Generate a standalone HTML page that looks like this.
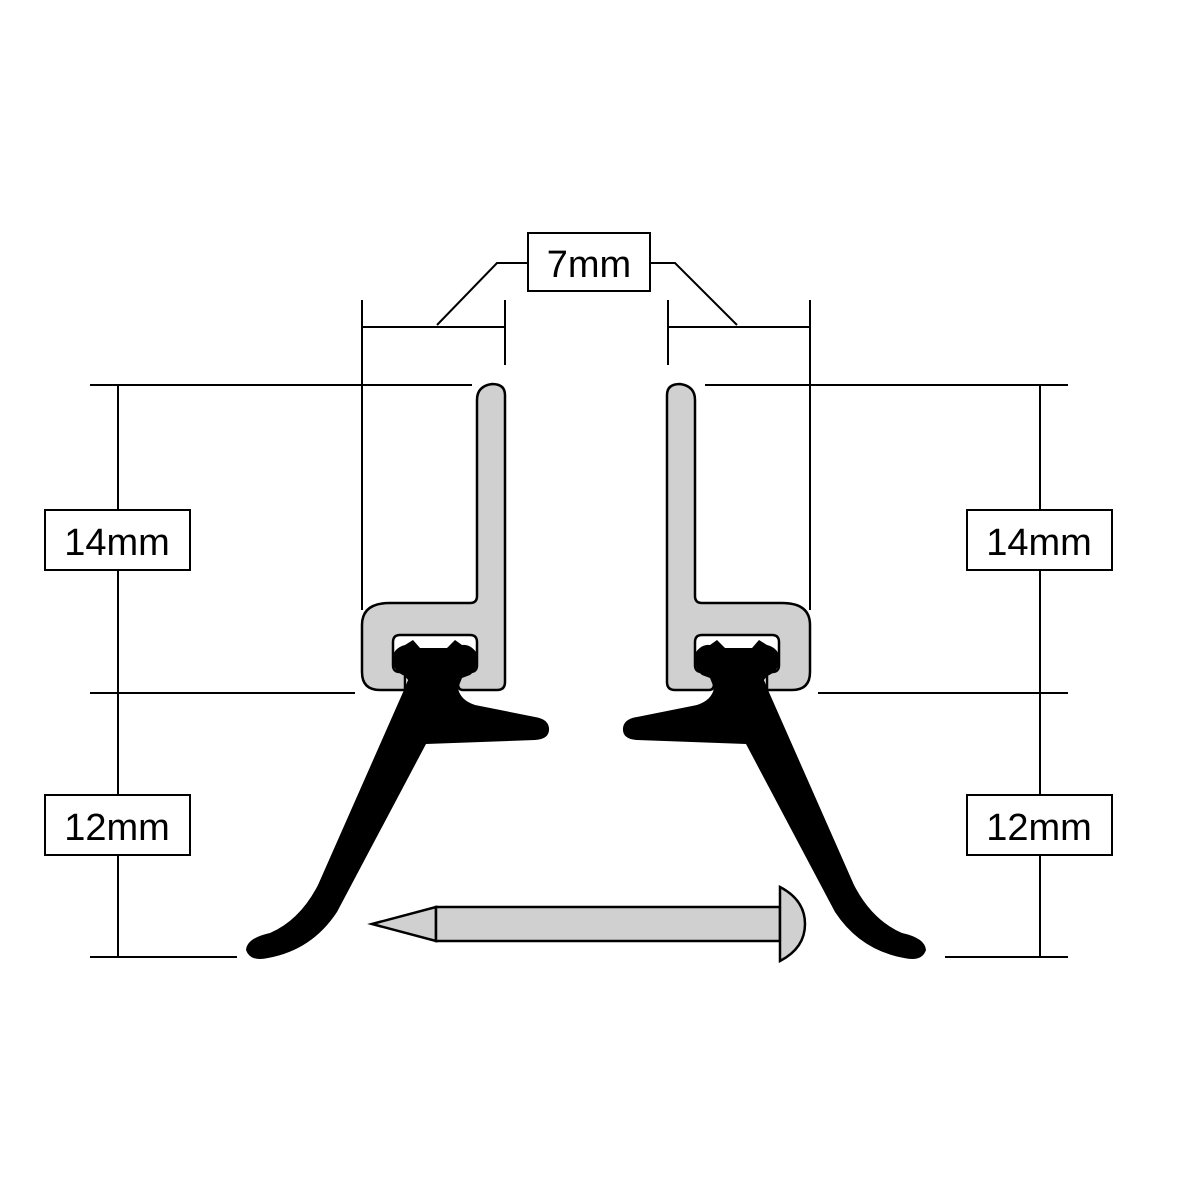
<!DOCTYPE html>
<html><head><style>html,body{margin:0;padding:0;background:#fff}svg{display:block}</style></head>
<body>
<svg width="1200" height="1200" viewBox="0 0 1200 1200" xmlns="http://www.w3.org/2000/svg">
<g stroke="#000" stroke-width="2" fill="none">
<line x1="90" y1="385" x2="472" y2="385"/>
<line x1="90" y1="693" x2="355" y2="693"/>
<line x1="90" y1="957" x2="237" y2="957"/>
<line x1="118" y1="385" x2="118" y2="957"/>
<line x1="705" y1="385" x2="1068" y2="385"/>
<line x1="818" y1="693" x2="1068" y2="693"/>
<line x1="945" y1="957" x2="1068" y2="957"/>
<line x1="1040" y1="385" x2="1040" y2="957"/>
<line x1="362" y1="300" x2="362" y2="610"/>
<line x1="505" y1="300" x2="505" y2="365"/>
<line x1="362" y1="327" x2="505" y2="327"/>
<polyline points="437,325 497,263 528,263"/>
<line x1="668" y1="300" x2="668" y2="365"/>
<line x1="810" y1="300" x2="810" y2="610"/>
<line x1="668" y1="327" x2="810" y2="327"/>
<polyline points="737,325 675,263 650,263"/>
</g>
<g fill="#fff" stroke="#000" stroke-width="2">
<rect x="528" y="233" width="122" height="58"/>
<rect x="45" y="510" width="145" height="60"/>
<rect x="45" y="795" width="145" height="60"/>
<rect x="967" y="510" width="145" height="60"/>
<rect x="967" y="795" width="145" height="60"/>
</g>
<g font-family="Liberation Sans, sans-serif" font-size="38" text-anchor="middle" fill="#000">
<text x="589" y="277">7mm</text>
<text x="117" y="555">14mm</text>
<text x="117" y="840">12mm</text>
<text x="1039" y="555">14mm</text>
<text x="1039" y="840">12mm</text>
</g>
<g id="prof">
<path d="M477,400 Q477,386 492,384 Q505,384 505,395 L505,682 Q505,690 497,690 L463,690 Q458,690 458,684 L458,672 L470,672 Q477,672 477,665 L477,642 Q477,635 470,635 L400,635 Q393,635 393,642 L393,665 Q393,672 400,672 L405,672 L405,690 L380,690 Q362,690 362,672 L362,625 Q362,603 390,603 L470,603 Q477,603 477,596 Z" fill="#d0d0d0" stroke="#000" stroke-width="2.5"/>
<path d="M408,680 L404,690 L318,885 Q300,920 270,933 Q247,938 246,950 Q250,962 268,958 Q312,950 337,912 L426,744 L535,740 Q550,739 549,728 Q548,719 535,717 L475,705 Q460,700 458,688 L462,678 L470,675 Q479,668 476,652 Q470,644 462,645 L455,640 L447,648 L420,648 L413,640 L405,645 Q393,648 392,660 Q394,672 405,676 Z" fill="#000"/>
</g>
<use href="#prof" transform="translate(1172,0) scale(-1,1)"/>
<g fill="#d0d0d0" stroke="#000" stroke-width="2.5">
<polygon points="372,924 436,907 436,941"/>
<rect x="436" y="907" width="344" height="34"/>
<path d="M780,887 Q805,900 805,924 Q805,948 780,961 Z"/>
</g>
</svg>
</body></html>
